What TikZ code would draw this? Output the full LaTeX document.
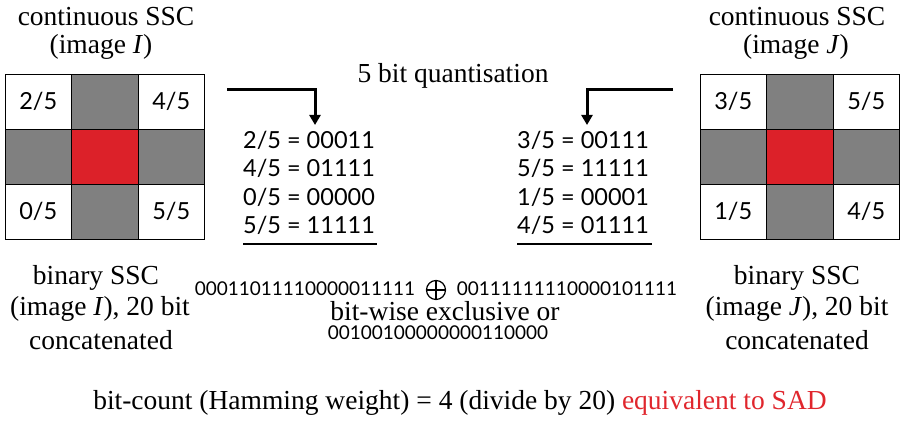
\documentclass[tikz,border=0pt]{standalone}
\usepackage{fontspec}
\setmainfont{Liberation Serif}
\newfontfamily\gill{Lato}
\usetikzlibrary{arrows.meta}
\definecolor{cellgray}{HTML}{808080}
\definecolor{cellred}{HTML}{DC2129}
\definecolor{sadred}{HTML}{E0262D}
\tikzset{
  cell/.style={draw=black, line width=0.9pt, minimum width=66.5pt, minimum height=55pt, inner sep=0pt, font=\gill\fontsize{23.5}{25}\selectfont},
  wcell/.style={cell, fill=white},
  gcell/.style={cell, fill=cellgray},
  rcell/.style={cell, fill=cellred},
  serif/.style={font=\fontsize{27.5}{30}\selectfont, inner sep=0pt},
  qline/.style={font=\gill\fontsize{23.5}{25}\selectfont, inner sep=0pt, anchor=west},
  bits/.style={font=\gill\fontsize{19}{20}\selectfont, inner sep=0pt},
  flow/.style={line width=3pt, -{Triangle[length=10pt,width=11pt]}},
  uline/.style={line width=2pt},
  xorsym/.style={circle, draw=black, line width=1.2pt, minimum size=19pt, inner sep=0pt}
}
\begin{document}
\begin{tikzpicture}[x=1pt,y=-1pt]
\useasboundingbox (0,0) rectangle (902,422);
% left grid
\node[wcell] (l11) at (38.25,101.5) {2/5};
\node[gcell] (l12) at (104.75,101.5) {};
\node[wcell] (l13) at (171.25,101.5) {4/5};
\node[gcell] (l21) at (38.25,156.5) {};
\node[rcell] (l22) at (104.75,156.5) {};
\node[gcell] (l23) at (171.25,156.5) {};
\node[wcell] (l31) at (38.25,211.5) {0/5};
\node[gcell] (l32) at (104.75,211.5) {};
\node[wcell] (l33) at (171.25,211.5) {5/5};
% right grid
\node[wcell] (r11) at (733.25,101.5) {3/5};
\node[gcell] (r12) at (799.75,101.5) {};
\node[wcell] (r13) at (866.25,101.5) {5/5};
\node[gcell] (r21) at (733.25,156.5) {};
\node[rcell] (r22) at (799.75,156.5) {};
\node[gcell] (r23) at (866.25,156.5) {};
\node[wcell] (r31) at (733.25,211.5) {1/5};
\node[gcell] (r32) at (799.75,211.5) {};
\node[wcell] (r33) at (866.25,211.5) {4/5};
% top labels
\node[serif] (ltop1) at (106,17) {continuous SSC};
\node[serif] (ltop2) at (101,47) {(image \textit{I})};
\node[serif] (rtop1) at (797,17) {continuous SSC};
\node[serif] (rtop2) at (796,47) {(image \textit{J})};
\node[serif] (quant) at (453,76) {5 bit quantisation};
% arrows
\coordinate (la0) at (227,90);
\coordinate (la1) at (315,125);
\coordinate (ra0) at (673,90);
\coordinate (ra1) at (587,125);
\draw[flow] (la0) -| (la1);
\draw[flow] (ra0) -| (ra1);
% quantisation lists
\node[qline] (lq1) at (243,140) {2/5 = 00011};
\node[qline] (lq2) at (243,168.5) {4/5 = 01111};
\node[qline] (lq3) at (243,197) {0/5 = 00000};
\node[qline] (lq4) at (243,225.5) {5/5 = 11111};
\node[qline] (rq1) at (517,140) {3/5 = 00111};
\node[qline] (rq2) at (517,168.5) {5/5 = 11111};
\node[qline] (rq3) at (517,197) {1/5 = 00001};
\node[qline] (rq4) at (517,225.5) {4/5 = 01111};
\coordinate (lu0) at (243,244);
\coordinate (lu1) at (377,244);
\coordinate (ru0) at (517,244);
\coordinate (ru1) at (652,244);
\draw[uline] (lu0) -- (lu1);
\draw[uline] (ru0) -- (ru1);
% bit strings
\node[bits] (lbits) at (305,289) {00011011110000011111};
\node[xorsym] (xor) at (436,290) {};
\draw[line width=1.2pt] (xor.north) -- (xor.south) (xor.west) -- (xor.east);
\node[bits] (rbits) at (567,289) {00111111110000101111};
\node[serif] (xlabel) at (445,311) {bit-wise exclusive or};
\node[bits] (xres) at (438,333) {00100100000000110000};
% bottom labels
\node[serif] (lb1) at (96,278) {binary SSC};
\node[serif] (lb2) at (100,309) {(image \textit{I}), 20 bit};
\node[serif] (lb3) at (101,340) {concatenated};
\node[serif] (rb1) at (797,278) {binary SSC};
\node[serif] (rb2) at (797,309) {(image \textit{J}), 20 bit};
\node[serif] (rb3) at (797,340) {concatenated};
\node[serif] (hw) at (460,403) {bit-count (Hamming weight) = 4 (divide by 20) \textcolor{sadred}{equivalent to SAD}};
\end{tikzpicture}
\end{document}
